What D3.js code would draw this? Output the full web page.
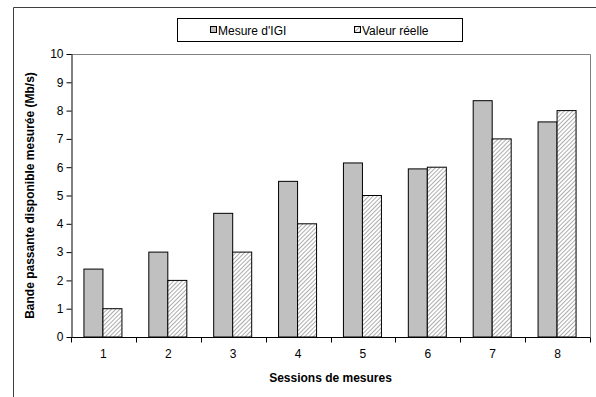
<!DOCTYPE html>
<html><head><meta charset="utf-8">
<script src="https://cdn.jsdelivr.net/npm/d3@7"></script>
<style>body{margin:0;background:#fff}svg{display:block}text{font-family:"Liberation Sans",Arial,sans-serif}</style>
</head><body>
<svg id="c" width="596" height="397"></svg>
<script>
const categories = ["1","2","3","4","5","6","7","8"];
const seriesNames = ["Mesure d'IGI","Valeur réelle"];
const igi = [2.4, 3.0, 4.37, 5.5, 6.15, 5.94, 8.35, 7.6];
const reel = [1, 2, 3, 4, 5, 6, 7, 8];
const yTicks = [0,1,2,3,4,5,6,7,8,9,10];

const svg = d3.select("#c");
const defs = svg.append("defs");
const pat = defs.append("pattern").attr("id","hatch").attr("patternUnits","userSpaceOnUse")
  .attr("width",3).attr("height",3).attr("patternTransform","rotate(45)");
pat.append("rect").attr("width",3).attr("height",3).attr("fill","#fff");
pat.append("line").attr("x1",0).attr("y1",0).attr("x2",0).attr("y2",3).attr("stroke","#808080").attr("stroke-width",1.3);

// outer frame
svg.append("path").attr("d","M13.5,397V7.5H596").attr("fill","none").attr("stroke","#404040").attr("stroke-width",1);

const L=71, R=590, T=54, B=337;
const x = d3.scaleBand().domain(categories).range([L,R]).padding(0);
const y = d3.scaleLinear().domain([0,10]).range([B,T]);
const inner = d3.scaleBand().domain([0,1]).range([0,38]);
const off = (x.bandwidth()-38)/2 - 0.5;

// plot border top/right
svg.append("path").attr("d",`M${L},${T+0.5}H${R+0.5}V${B}`).attr("fill","none").attr("stroke","#808080").attr("stroke-width",1);

const g = svg.append("g");
categories.forEach((c,i)=>{
  g.append("rect").attr("x",x(c)+off+inner(0)).attr("y",y(igi[i])).attr("width",inner.bandwidth()).attr("height",y(0)-y(igi[i]))
    .attr("fill","#c0c0c0").attr("stroke","#000").attr("stroke-width",1);
  g.append("rect").attr("x",x(c)+off+inner(1)).attr("y",y(reel[i])).attr("width",inner.bandwidth()).attr("height",y(0)-y(reel[i]))
    .attr("fill","url(#hatch)").attr("stroke","#000").attr("stroke-width",1);
});

// y axis
const ya = svg.append("g").attr("transform",`translate(${L+0.5},0)`)
  .call(d3.axisLeft(y).tickValues(yTicks).tickSize(5).tickSizeOuter(0).tickPadding(3));
ya.select(".domain").attr("stroke","#000");
ya.selectAll("text").attr("font-size",12).attr("fill","#000");

// x axis
const xa = svg.append("g").attr("transform",`translate(0,${B+0.5})`)
  .call(d3.axisBottom(x).tickSize(0).tickPadding(12));
xa.select(".domain").attr("stroke","#000").attr("d",`M${L},0H${R+0.5}`);
xa.selectAll("text").attr("font-size",12).attr("fill","#000");
const bounds = categories.map(c=>x(c)).concat([R]);
xa.selectAll(".bt").data(bounds).enter().append("line").attr("class","bt")
  .attr("x1",d=>Math.round(d)+0.5).attr("x2",d=>Math.round(d)+0.5).attr("y1",0).attr("y2",5).attr("stroke","#000");

// titles
svg.append("text").attr("x",(L+R)/2).attr("y",382).attr("text-anchor","middle").attr("font-size",12).attr("font-weight","bold").text("Sessions de mesures");
svg.append("text").attr("transform",`translate(34,${(T+B)/2}) rotate(-90)`).attr("text-anchor","middle").attr("font-size",12).attr("font-weight","bold").text("Bande passante disponible mesurée (Mb/s)");

// legend
const lg = svg.append("g");
lg.append("rect").attr("x",177.5).attr("y",18.5).attr("width",285).attr("height",23).attr("fill","#fff").attr("stroke","#000");
const lx=[210,354];
seriesNames.forEach((n,i)=>{
  lg.append("rect").attr("x",lx[i]+0.5).attr("y",26.5).attr("width",6).attr("height",6)
    .attr("fill", i===0?"#c0c0c0":"url(#hatch)").attr("stroke","#000");
  lg.append("text").attr("x",lx[i]+8).attr("y",35).attr("font-size",12).text(n);
});
</script>
</body></html>
